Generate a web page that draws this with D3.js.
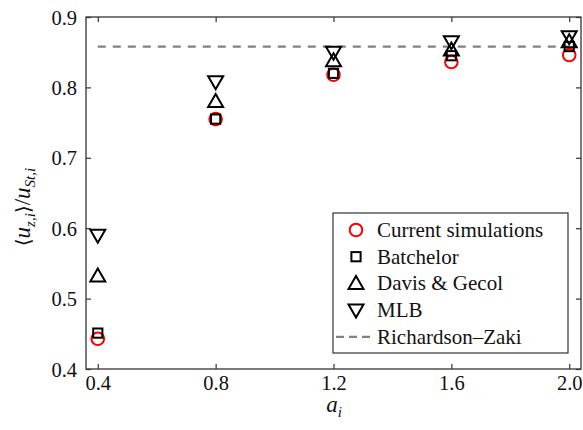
<!DOCTYPE html>
<html>
<head>
<meta charset="utf-8">
<script src="https://cdn.jsdelivr.net/npm/d3@7"></script>
</head>
<body style="margin:0">
<svg id="chart" width="583" height="430" font-family="Liberation Serif"></svg>
<script>
// Particle radius ratio a_i and normalised mean settling velocity
const aValues = [0.4, 0.8, 1.2, 1.6, 2.0];
const currentSim = [0.443, 0.755, 0.818, 0.836, 0.846];
const batchelor = [0.451, 0.755, 0.820, 0.845, 0.858];
const davisGecol = [0.532, 0.780, 0.838, 0.853, 0.865];
const mlb = [0.590, 0.808, 0.850, 0.865, 0.872];
const richardsonZaki = 0.858;
const xTicks = [0.4, 0.8, 1.2, 1.6, 2.0];
const yTicks = [0.4, 0.5, 0.6, 0.7, 0.8, 0.9];
const legendLabels = ["Current simulations", "Batchelor", "Davis & Gecol", "MLB", "Richardson\u2013Zaki"];

const svg = d3.select("#chart");
const plotL = 86, plotR = 581, plotT = 17, plotB = 369;

const x = d3.scaleLinear().domain([0.36, 2.04]).range([plotL, plotR]);
const y = d3.scaleLinear().domain([0.4, 0.9]).range([plotB, plotT]);

const axisColor = "#333";
const tickLen = 5;
const serif = '"Liberation Serif"';

// Shared text helper: serif face at a given size
function serifText(sel, size) {
  return sel.style("font-family", serif).attr("font-size", size);
}

// Inward ticks on all four sides
const bottomAxis = d3.axisBottom(x).tickValues(xTicks).tickSizeInner(-tickLen).tickSizeOuter(0).tickFormat(d3.format(".1f"));
const topAxis = d3.axisTop(x).tickValues(xTicks).tickSizeInner(-tickLen).tickSizeOuter(0).tickFormat("");
const leftAxis = d3.axisLeft(y).tickValues(yTicks).tickSizeInner(-tickLen).tickSizeOuter(0).tickFormat(d3.format(".1f"));
const rightAxis = d3.axisRight(y).tickValues(yTicks).tickSizeInner(-tickLen).tickSizeOuter(0).tickFormat("");

function styleAxis(g) {
  g.attr("font-family", null).attr("font-size", null);
  g.select(".domain").remove();
  g.selectAll(".tick line").attr("stroke", axisColor).attr("stroke-width", 1.2);
  g.selectAll(".tick text").call(serifText, 20.5).attr("fill", "#111");
}

svg.append("g").attr("transform", `translate(0,${plotB})`).call(bottomAxis).call(styleAxis)
  .call(g => g.selectAll(".tick text").attr("dy", null).attr("y", 21));
svg.append("g").attr("transform", `translate(0,${plotT})`).call(topAxis).call(styleAxis);
svg.append("g").attr("transform", `translate(${plotL},0)`).call(leftAxis).call(styleAxis)
  .call(g => g.selectAll(".tick text").attr("x", -9).attr("dy", null).attr("y", 7));
svg.append("g").attr("transform", `translate(${plotR},0)`).call(rightAxis).call(styleAxis);

// Plot frame
svg.append("rect")
  .attr("x", plotL).attr("y", plotT)
  .attr("width", plotR - plotL).attr("height", plotB - plotT)
  .attr("fill", "none").attr("stroke", axisColor).attr("stroke-width", 1.3);

// Richardson–Zaki reference line
svg.append("line")
  .attr("x1", x(aValues[0])).attr("x2", x(aValues[aValues.length - 1]))
  .attr("y1", y(richardsonZaki)).attr("y2", y(richardsonZaki))
  .attr("stroke", "#808080").attr("stroke-width", 2.2)
  .attr("stroke-dasharray", "8,7");

// Marker shapes
function drawMarker(g, kind, cx, cy) {
  if (kind === "circle") {
    g.append("circle").attr("cx", cx).attr("cy", cy).attr("r", 6.3)
      .attr("fill", "none").attr("stroke", "#f00").attr("stroke-width", 2);
  } else if (kind === "square") {
    g.append("rect").attr("x", cx - 4.6).attr("y", cy - 4.6).attr("width", 9.2).attr("height", 9.2)
      .attr("fill", "none").attr("stroke", "#000").attr("stroke-width", 2);
  } else if (kind === "up") {
    g.append("path").attr("d", "M0,-7.5L7.5,5.5L-7.5,5.5Z")
      .attr("transform", `translate(${cx},${cy})`)
      .attr("fill", "none").attr("stroke", "#000").attr("stroke-width", 2);
  } else if (kind === "down") {
    g.append("path").attr("d", "M0,7.5L7.5,-5.5L-7.5,-5.5Z")
      .attr("transform", `translate(${cx},${cy})`)
      .attr("fill", "none").attr("stroke", "#000").attr("stroke-width", 2);
  }
}

const series = [
  { values: currentSim, kind: "circle" },
  { values: batchelor, kind: "square" },
  { values: davisGecol, kind: "up" },
  { values: mlb, kind: "down" }
];

const marks = svg.append("g");
series.forEach(s => {
  s.values.forEach((v, i) => drawMarker(marks, s.kind, x(aValues[i]), y(v)));
});

// Legend
const lg = svg.append("g");
const lgX = 333, lgY = 213, lgW = 235, lgH = 140;
lg.append("rect").attr("x", lgX).attr("y", lgY).attr("width", lgW).attr("height", lgH)
  .attr("fill", "#fff").attr("stroke", axisColor).attr("stroke-width", 1.2);
const rowY = i => 230 + i * 26.7;
const kinds = ["circle", "square", "up", "down"];
legendLabels.forEach((label, i) => {
  const cy = rowY(i);
  if (i < 4) {
    drawMarker(lg, kinds[i], 356, cy);
  } else {
    lg.append("line").attr("x1", 336).attr("x2", 374).attr("y1", cy).attr("y2", cy)
      .attr("stroke", "#808080").attr("stroke-width", 2.2).attr("stroke-dasharray", "8,5");
  }
  lg.append("text").attr("x", 377).attr("y", cy + 7)
    .call(serifText, 21).attr("fill", "#111").text(label);
});

// Axis titles
const xt = svg.append("text").attr("x", 334).attr("y", 412).attr("text-anchor", "middle")
  .call(serifText, 23).attr("fill", "#111");
xt.append("tspan").attr("font-style", "italic").text("a");
xt.append("tspan").attr("font-style", "italic").attr("font-size", 15).attr("dy", 5).text("i");

// Angle brackets come from a face that carries them, the rest stays serif
const yt = svg.append("text")
  .attr("transform", `translate(30,207) rotate(-90)`)
  .attr("text-anchor", "middle")
  .call(serifText, 23).attr("fill", "#111");
yt.append("tspan").style("font-family", '"DejaVu Serif"').attr("font-size", 20).text("\u27E8");
yt.append("tspan").attr("font-style", "italic").text("u");
yt.append("tspan").attr("font-style", "italic").attr("font-size", 15).attr("dy", 5).text("z,i");
yt.append("tspan").style("font-family", '"DejaVu Serif"').attr("font-size", 20).attr("dy", -5).text("\u27E9");
yt.append("tspan").text("/");
yt.append("tspan").attr("font-style", "italic").text("u");
yt.append("tspan").attr("font-style", "italic").attr("font-size", 15).attr("dy", 5).text("St,i");
</script>
</body>
</html>
